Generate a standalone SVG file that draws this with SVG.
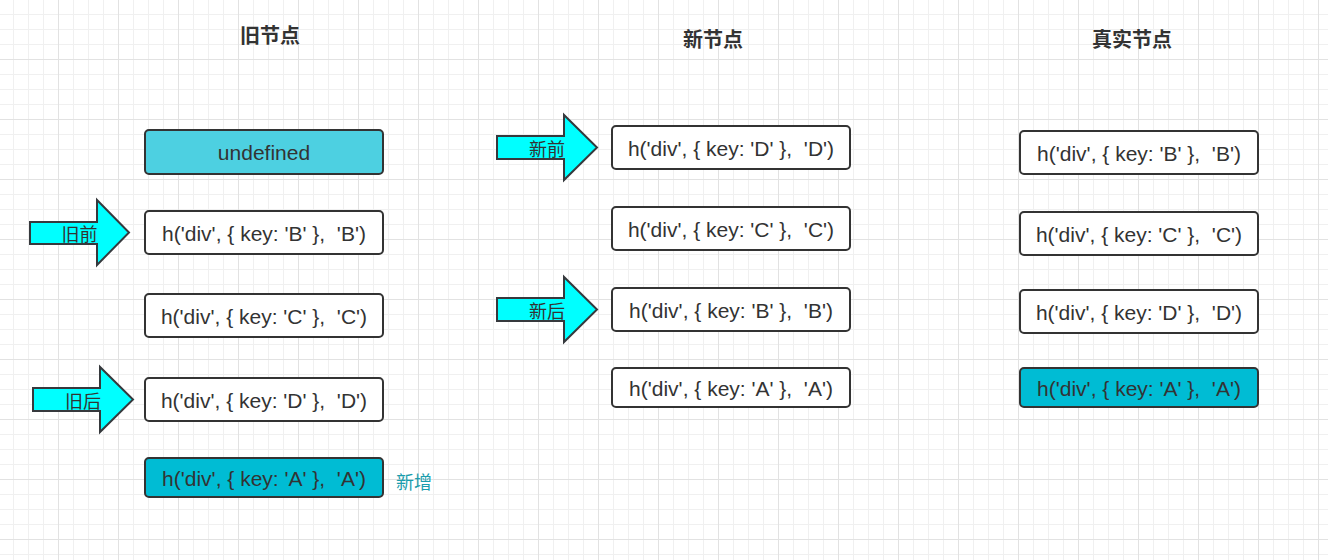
<svg xmlns="http://www.w3.org/2000/svg" width="1328" height="560" viewBox="0 0 1328 560">
  <style>
    .box { fill: #ffffff; stroke: #333333; stroke-width: 2; }
    .box-undef { fill: #4DD0E1; stroke: #333333; stroke-width: 2; }
    .box-new { fill: #00BCD4; stroke: #333333; stroke-width: 2; }
    .arrow { fill: #00FFFF; stroke: #36393d; stroke-width: 2; stroke-linejoin: miter; }
    .t { font-family: "Liberation Sans", "Noto Sans CJK SC", sans-serif; font-size: 21px; fill: #333333; text-anchor: middle; dominant-baseline: central; white-space: pre; }
    .lbl { font-family: "Noto Sans CJK SC", "Liberation Sans", sans-serif; font-size: 18px; fill: #333333; text-anchor: middle; dominant-baseline: central; }
    .title { font-family: "Noto Sans CJK SC", "Liberation Sans", sans-serif; font-size: 20px; font-weight: bold; fill: #333333; text-anchor: middle; dominant-baseline: central; }
    .note { font-family: "Noto Sans CJK SC", "Liberation Sans", sans-serif; font-size: 18px; fill: #1A9DAD; dominant-baseline: central; }
  </style>
  <defs>
    <pattern id="grid" patternUnits="userSpaceOnUse" x="-2" y="-1" width="60" height="60">
      <rect x="0" y="0" width="60" height="60" fill="#ffffff"/>
      <rect x="15" y="0" width="1" height="60" fill="#f0f0f0"/>
      <rect x="30" y="0" width="1" height="60" fill="#f0f0f0"/>
      <rect x="45" y="0" width="1" height="60" fill="#f0f0f0"/>
      <rect x="0" y="15" width="60" height="1" fill="#f0f0f0"/>
      <rect x="0" y="30" width="60" height="1" fill="#f0f0f0"/>
      <rect x="0" y="45" width="60" height="1" fill="#f0f0f0"/>
      <rect x="0" y="0" width="1" height="60" fill="#e2e2e2"/>
      <rect x="0" y="0" width="60" height="1" fill="#e2e2e2"/>
    </pattern>
  </defs>
  <rect x="0" y="0" width="1328" height="560" fill="url(#grid)"/>

  <g id="titles">
    <text class="title" x="270" y="34">旧节点</text>
    <text class="title" x="713" y="38">新节点</text>
    <text class="title" x="1132" y="38">真实节点</text>
  </g>

  <g id="connectors"></g>

  <!-- Old nodes -->
  <g id="old-undefined">
    <rect class="box-undef" x="145" y="130" width="238" height="44" rx="4"/>
    <text class="t" x="264" y="152">undefined</text>
  </g>
  <g id="old-B">
    <rect class="box" x="145" y="211" width="238" height="43" rx="4"/>
    <text class="t" x="264" y="233" xml:space="preserve">h('div', { key: 'B' },  'B')</text>
  </g>
  <g id="old-C">
    <rect class="box" x="145" y="294" width="238" height="43" rx="4"/>
    <text class="t" x="264" y="316" xml:space="preserve">h('div', { key: 'C' },  'C')</text>
  </g>
  <g id="old-D">
    <rect class="box" x="145" y="378" width="238" height="43" rx="4"/>
    <text class="t" x="264" y="400" xml:space="preserve">h('div', { key: 'D' },  'D')</text>
  </g>
  <g id="old-A">
    <rect class="box-new" x="145" y="458" width="238" height="39" rx="4"/>
    <text class="t" x="264" y="478" xml:space="preserve">h('div', { key: 'A' },  'A')</text>
  </g>
  <g id="note-new">
    <text class="note" x="396" y="481">新增</text>
  </g>

  <!-- Old pointers -->
  <g id="arrow-old-start">
    <polygon class="arrow" points="30,222 97,222 97,200 129,232.5 97,265 97,244 30,244"/>
    <text class="lbl" x="79.5" y="233">旧前</text>
  </g>
  <g id="arrow-old-end">
    <polygon class="arrow" points="33,388 100,388 100,367 133,399.5 100,432 100,411 33,411"/>
    <text class="lbl" x="83" y="400">旧后</text>
  </g>

  <!-- New nodes -->
  <g id="new-D">
    <rect class="box" x="612" y="126" width="238" height="43" rx="4"/>
    <text class="t" x="731" y="148" xml:space="preserve">h('div', { key: 'D' },  'D')</text>
  </g>
  <g id="new-C">
    <rect class="box" x="612" y="207" width="238" height="43" rx="4"/>
    <text class="t" x="731" y="229" xml:space="preserve">h('div', { key: 'C' },  'C')</text>
  </g>
  <g id="new-B">
    <rect class="box" x="612" y="288" width="238" height="43" rx="4"/>
    <text class="t" x="731" y="310" xml:space="preserve">h('div', { key: 'B' },  'B')</text>
  </g>
  <g id="new-A">
    <rect class="box" x="612" y="368" width="238" height="39" rx="4"/>
    <text class="t" x="731" y="388" xml:space="preserve">h('div', { key: 'A' },  'A')</text>
  </g>

  <!-- New pointers -->
  <g id="arrow-new-start">
    <polygon class="arrow" points="497,136 564,136 564,115 597,147.5 564,180 564,159 497,159"/>
    <text class="lbl" x="547" y="148">新前</text>
  </g>
  <g id="arrow-new-end">
    <polygon class="arrow" points="497,298 564,298 564,277 597,309.5 564,342 564,321 497,321"/>
    <text class="lbl" x="547" y="310">新后</text>
  </g>

  <!-- Real nodes -->
  <g id="real-B">
    <rect class="box" x="1020" y="131" width="238" height="43" rx="4"/>
    <text class="t" x="1139" y="153" xml:space="preserve">h('div', { key: 'B' },  'B')</text>
  </g>
  <g id="real-C">
    <rect class="box" x="1020" y="212" width="238" height="43" rx="4"/>
    <text class="t" x="1139" y="234" xml:space="preserve">h('div', { key: 'C' },  'C')</text>
  </g>
  <g id="real-D">
    <rect class="box" x="1020" y="290" width="238" height="43" rx="4"/>
    <text class="t" x="1139" y="312" xml:space="preserve">h('div', { key: 'D' },  'D')</text>
  </g>
  <g id="real-A">
    <rect class="box-new" x="1020" y="368" width="238" height="39" rx="4"/>
    <text class="t" x="1139" y="388" xml:space="preserve">h('div', { key: 'A' },  'A')</text>
  </g>
</svg>
